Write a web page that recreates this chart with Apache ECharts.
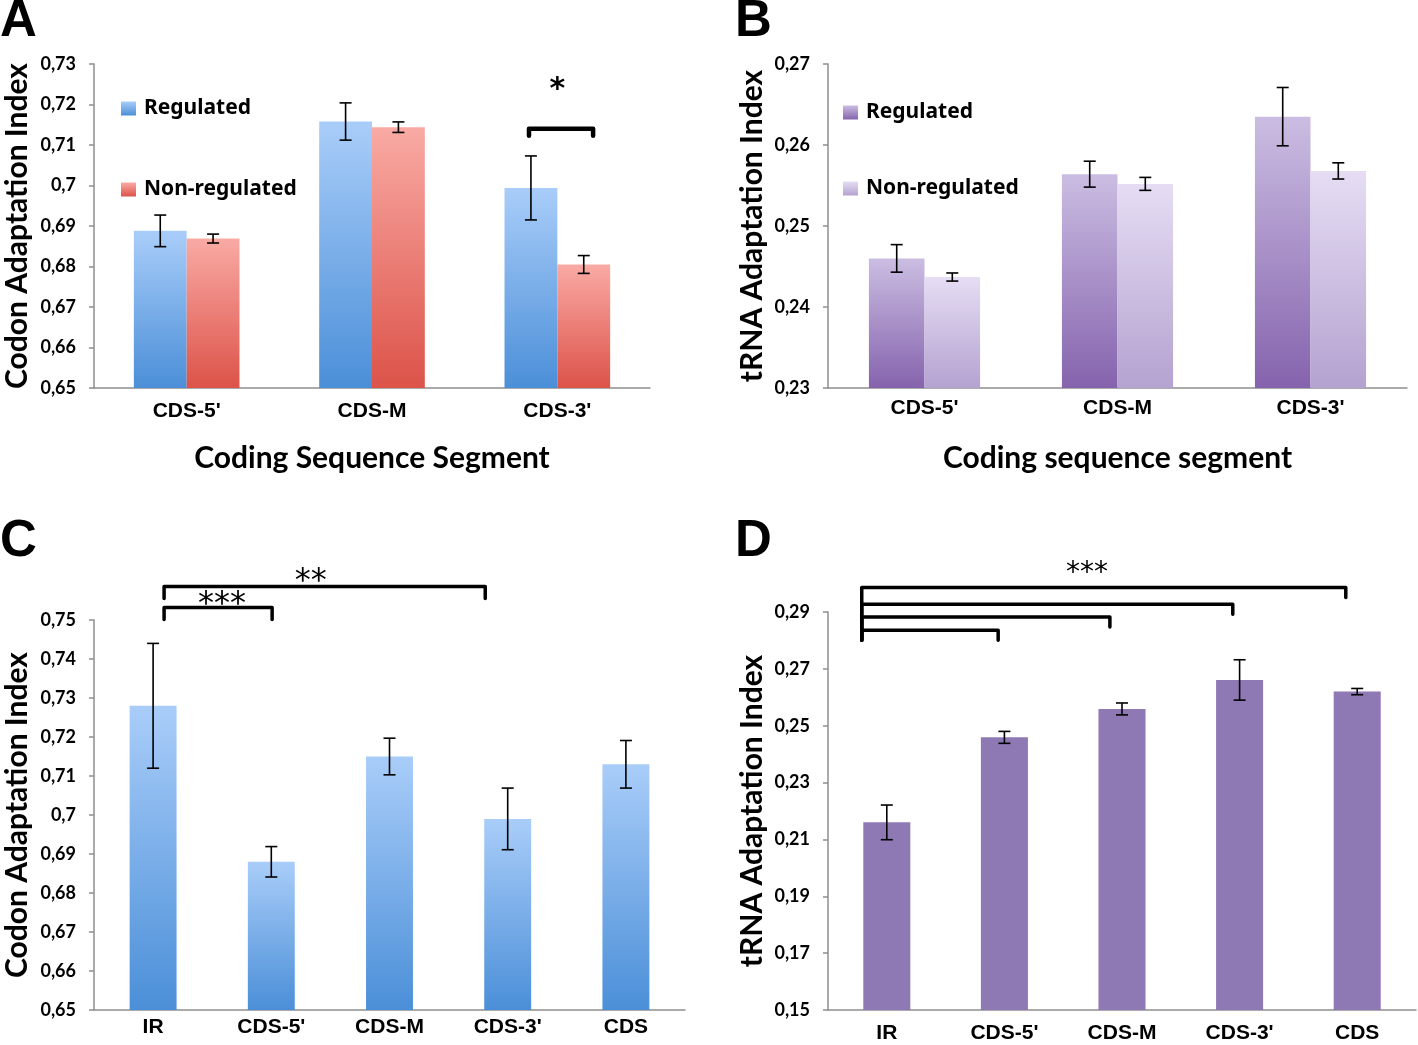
<!DOCTYPE html>
<html><head><meta charset="utf-8">
<script src="https://cdn.jsdelivr.net/npm/echarts@6/dist/echarts.min.js"></script>
<style>html,body{margin:0;padding:0;background:#fff}#c{width:1418px;height:1045px}</style>
</head><body><div id="c"></div>
<script>
// ---- data ----
const segCats = ["CDS-5'", "CDS-M", "CDS-3'"];
const regionCats = ["IR", "CDS-5'", "CDS-M", "CDS-3'", "CDS"];

const caiRegulated = [0.6888, 0.7158, 0.6994];
const caiRegulatedErr = [0.0039, 0.0046, 0.0079];
const caiNonRegulated = [0.6869, 0.7144, 0.6805];
const caiNonRegulatedErr = [0.0011, 0.0013, 0.0022];

const taiRegulated = [0.2460, 0.2564, 0.2635];
const taiRegulatedErr = [0.0017, 0.0016, 0.0036];
const taiNonRegulated = [0.2437, 0.2552, 0.2568];
const taiNonRegulatedErr = [0.0005, 0.0008, 0.0010];

const caiRegions = [0.728, 0.688, 0.715, 0.699, 0.713];
const caiRegionsErr = [0.016, 0.0039, 0.0047, 0.0079, 0.0061];

const taiRegions = [0.2160, 0.2459, 0.2559, 0.2661, 0.2620];
const taiRegionsErr = [0.0061, 0.0021, 0.0021, 0.0071, 0.0011];

const ticksA = [0.65, 0.66, 0.67, 0.68, 0.69, 0.70, 0.71, 0.72, 0.73];
const ticksB = [0.23, 0.24, 0.25, 0.26, 0.27];
const ticksC = [0.65, 0.66, 0.67, 0.68, 0.69, 0.70, 0.71, 0.72, 0.73, 0.74, 0.75];
const ticksD = [0.15, 0.17, 0.19, 0.21, 0.23, 0.25, 0.27, 0.29];

// significance brackets: [from category pos, to category pos, value]
const bracketsA = [[1.847, 2.193, 0.7140]];
const bracketsC = [[0.093, 1.007, 0.7532], [0.093, 2.81, 0.7586]];
const bracketsD = [[-0.213, 0.947, 0.2836], [-0.213, 1.897, 0.2882], [-0.213, 2.942, 0.2927], [-0.213, 3.903, 0.2986]];
// significance labels: [category pos, value, text]
const starsA = [[2.0, 0.7251, '*']];
const starsC = [[0.583, 0.7557, '***'], [1.334, 0.7616, '**']];
const starsD = [[1.702, 0.3057, '***']];

// ---- helpers ----
const grad = (top, bottom) => ({type: 'linear', x: 0, y: 0, x2: 0, y2: 1,
  colorStops: [{offset: 0, color: top}, {offset: 1, color: bottom}]});
const fmt = v => String(+v.toFixed(3)).replace('.', ',');
const axisGray = '#8e8e8e';

function xAx(grid, cats, name, margin) {
  return {
    gridIndex: grid, type: 'category', data: cats,
    axisLine: {lineStyle: {color: axisGray, width: 1.5}},
    axisTick: {show: false},
    axisLabel: {margin: margin, fontFamily: 'Liberation Sans', fontWeight: 'bold', fontSize: 21, color: '#000', interval: 0},
    name: name, nameLocation: 'middle', nameGap: 55,
    nameTextStyle: {fontFamily: 'Lato', fontWeight: 'bold', fontSize: 30, color: '#000'}
  };
}
function yAx(grid, ticks, name, gap) {
  return {
    gridIndex: grid, type: 'value', min: ticks[0], max: ticks[ticks.length - 1],
    splitLine: {show: false},
    axisLine: {show: true, lineStyle: {color: axisGray, width: 1.5}},
    axisTick: {show: true, length: 5, customValues: ticks, lineStyle: {color: axisGray, width: 1.5}},
    axisLabel: {customValues: ticks, formatter: fmt, margin: 18, fontFamily: 'Lato', fontWeight: 'bold', fontSize: 18, color: '#000'},
    name: name, nameLocation: 'middle', nameGap: gap, nameRotate: 90,
    nameTextStyle: {fontFamily: 'Lato', fontWeight: 'bold', fontSize: 30, color: '#000'}
  };
}
function barSeries(name, idx, vals, color, width) {
  return {name: name, type: 'bar', xAxisIndex: idx, yAxisIndex: idx, data: vals,
    barWidth: width, barGap: '0%', itemStyle: {color: color}, silent: true, z: 2};
}
function errSeries(idx, vals, errs, off) {
  return {
    type: 'custom', xAxisIndex: idx, yAxisIndex: idx, z: 5, silent: true, clip: false,
    encode: {x: 0, y: 1},
    data: vals.map((v, i) => [i, v, errs[i]]),
    renderItem: (params, api) => {
      const i = api.value(0), v = api.value(1), e = api.value(2);
      const band = api.size([1, 0])[0];
      const x = api.coord([i, v])[0] + off * band;
      const yt = api.coord([i, v + e])[1], yb = api.coord([i, v - e])[1];
      const w = 6, st = {stroke: '#000', lineWidth: 1.6};
      return {type: 'group', children: [
        {type: 'line', shape: {x1: x, y1: yt, x2: x, y2: yb}, style: st},
        {type: 'line', shape: {x1: x - w, y1: yt, x2: x + w, y2: yt}, style: st},
        {type: 'line', shape: {x1: x - w, y1: yb, x2: x + w, y2: yb}, style: st}
      ]};
    }
  };
}
function bracketSeries(idx, brackets, drop, lw, joinLeft) {
  const lowest = Math.min.apply(null, brackets.map(b => b[2]));
  return {
    type: 'custom', xAxisIndex: idx, yAxisIndex: idx, z: 6, silent: true, clip: false,
    encode: {x: 0, y: 2},
    data: brackets,
    renderItem: (params, api) => {
      const a = api.value(0), b = api.value(1), v = api.value(2);
      const band = api.size([1, 0])[0];
      const base = api.coord([0, v]);
      const x1 = base[0] + a * band, x2 = base[0] + b * band, y = base[1];
      const yl = joinLeft ? api.coord([0, lowest])[1] + drop : y + drop;
      return {type: 'polyline', shape: {points: [[x1, yl], [x1, y], [x2, y], [x2, y + drop]]},
        style: {stroke: '#000', lineWidth: lw, fill: null, lineJoin: 'round', lineCap: 'round'}};
    }
  };
}
function starSeries(idx, stars, size, weight) {
  return {
    type: 'custom', xAxisIndex: idx, yAxisIndex: idx, z: 6, silent: true, clip: false,
    encode: {x: 0, y: 1},
    data: stars,
    renderItem: (params, api) => {
      const p = api.value(0), v = api.value(1);
      const band = api.size([1, 0])[0];
      const base = api.coord([0, v]);
      return {type: 'text', x: base[0] + p * band, y: base[1] + 0.22 * size,
        style: {text: stars[params.dataIndex][2], fontSize: size, fontFamily: 'DejaVu Sans', fontWeight: weight,
          fill: '#000', align: 'center', verticalAlign: 'middle'}};
    }
  };
}

const blueG = grad('#a9cdf9', '#4b8fd8');
const redG = grad('#f9aaa4', '#dc5349');
const purpleG = grad('#cbbde2', '#8563ad');
const lilacG = grad('#e6ddf4', '#b4a2d0');
const purpleFlat = '#8f79b4';

const chart = echarts.init(document.getElementById('c'), null, {renderer: 'canvas'});
chart.setOption({
  animation: false,
  backgroundColor: '#fff',
  grid: [
    {left: 94, top: 64, width: 556, height: 324},
    {left: 828, top: 64, width: 579, height: 324},
    {left: 94, top: 620, width: 591, height: 390},
    {left: 828, top: 612, width: 588, height: 398}
  ],
  xAxis: [
    xAx(0, segCats, 'Coding Sequence Segment', 13),
    xAx(1, segCats, 'Coding sequence segment', 10),
    xAx(2, regionCats, '', 7),
    xAx(3, regionCats, '', 13)
  ],
  yAxis: [
    yAx(0, ticksA, 'Codon Adaptation Index', 62),
    yAx(1, ticksB, 'tRNA Adaptation Index', 61),
    yAx(2, ticksC, 'Codon Adaptation Index', 62),
    yAx(3, ticksD, 'tRNA Adaptation Index', 61)
  ],
  legend: [
    {data: ['Regulated', 'Non-regulated'], left: 116, top: 93, orient: 'vertical', itemGap: 60,
      itemWidth: 15, itemHeight: 14, selectedMode: false, icon: 'rect',
      textStyle: {fontFamily: 'Noto Sans', fontWeight: 'bold', fontSize: 21, color: '#000', padding: [0, 0, 0, 3]}},
    {data: ['Regulated (B)', 'Non-regulated (B)'], left: 838, top: 97, orient: 'vertical', itemGap: 55,
      itemWidth: 15, itemHeight: 14, selectedMode: false, icon: 'rect',
      formatter: n => n.replace(' (B)', ''),
      textStyle: {fontFamily: 'Noto Sans', fontWeight: 'bold', fontSize: 21, color: '#000', padding: [0, 0, 0, 3]}}
  ],
  graphic: [
    {type: 'text', left: 0, top: -4, style: {text: 'A', font: 'bold 51px "Liberation Sans"', fill: '#000'}},
    {type: 'text', left: 735, top: -4, style: {text: 'B', font: 'bold 51px "Liberation Sans"', fill: '#000'}},
    {type: 'text', left: 0, top: 516, style: {text: 'C', font: 'bold 51px "Liberation Sans"', fill: '#000'}},
    {type: 'text', left: 735, top: 516, style: {text: 'D', font: 'bold 51px "Liberation Sans"', fill: '#000'}}
  ],
  series: [
    barSeries('Regulated', 0, caiRegulated, blueG, '28.5%'),
    barSeries('Non-regulated', 0, caiNonRegulated, redG, '28.5%'),
    errSeries(0, caiRegulated, caiRegulatedErr, -0.1425),
    errSeries(0, caiNonRegulated, caiNonRegulatedErr, 0.1425),
    bracketSeries(0, bracketsA, 7, 4.5, false),
    starSeries(0, starsA, 30, 'bold'),

    barSeries('Regulated (B)', 1, taiRegulated, purpleG, '28.8%'),
    barSeries('Non-regulated (B)', 1, taiNonRegulated, lilacG, '28.8%'),
    errSeries(1, taiRegulated, taiRegulatedErr, -0.144),
    errSeries(1, taiNonRegulated, taiNonRegulatedErr, 0.144),

    barSeries('CAI', 2, caiRegions, blueG, '39.7%'),
    errSeries(2, caiRegions, caiRegionsErr, 0),
    bracketSeries(2, bracketsC, 12, 3.5, false),
    starSeries(2, starsC, 32, 'normal'),

    barSeries('tAI', 3, taiRegions, purpleFlat, '40%'),
    errSeries(3, taiRegions, taiRegionsErr, 0),
    bracketSeries(3, bracketsD, 10, 3.5, true),
    starSeries(3, starsD, 28, 'normal')
  ]
});
</script>
</body></html>
